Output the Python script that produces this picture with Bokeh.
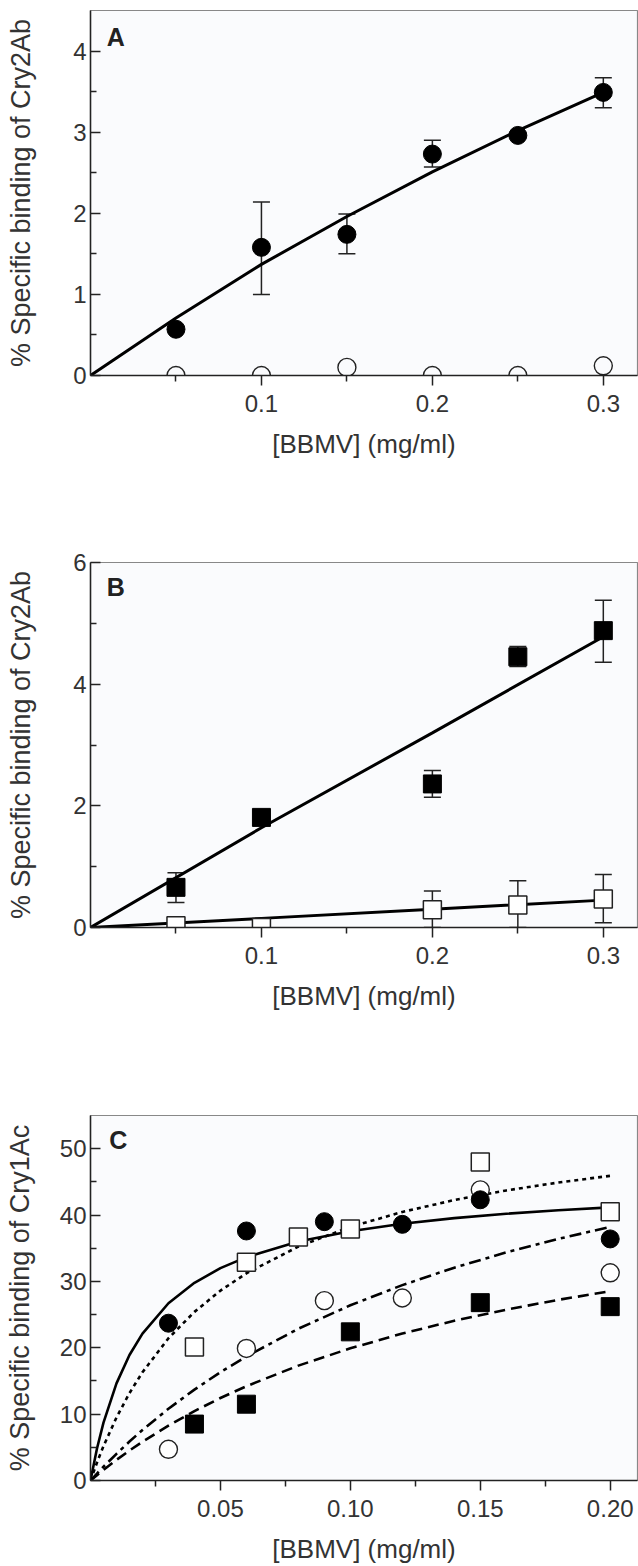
from bokeh.plotting import figure
from bokeh.models import (FixedTicker, PrintfTickFormatter, Whisker, TeeHead,
                          ColumnDataSource, Label, Range1d)
from bokeh.layouts import column
from bokeh.embed import file_html
from bokeh.resources import INLINE

# ---------------- Panel A ----------------
a_x = [0.05, 0.10, 0.15, 0.20, 0.25, 0.30]
a_filled = [0.57, 1.58, 1.74, 2.73, 2.96, 3.49]
a_open = [0.0, 0.0, 0.10, 0.0, 0.0, 0.12]
a_err_x = [0.10, 0.15, 0.20, 0.30]
a_err_lo = [1.00, 1.50, 2.57, 3.30]
a_err_hi = [2.14, 1.99, 2.90, 3.67]
a_fit_x = [0.0, 0.05, 0.10, 0.15, 0.20, 0.25, 0.30]
a_fit_y = [0.0, 0.71, 1.37, 1.96, 2.51, 3.02, 3.49]

# ---------------- Panel B ----------------
b_x = [0.05, 0.10, 0.20, 0.25, 0.30]
b_filled = [0.66, 1.81, 2.36, 4.45, 4.88]
b_open = [0.03, 0.0, 0.29, 0.37, 0.47]
b_ferr_x = [0.05, 0.20, 0.25, 0.30]
b_ferr_lo = [0.41, 2.14, 4.29, 4.36]
b_ferr_hi = [0.90, 2.58, 4.62, 5.38]
b_oerr_x = [0.20, 0.25, 0.30]
b_oerr_lo = [0.0, 0.0, 0.08]
b_oerr_hi = [0.60, 0.77, 0.87]
b_fit_x = [0.0, 0.10, 0.20, 0.30]
b_fit_filled = [0.0, 1.64, 3.20, 4.78]
b_fit_open = [0.0, 0.15, 0.30, 0.45]

# ---------------- Panel C ----------------
c_fc_x = [0.03, 0.06, 0.09, 0.12, 0.15, 0.20]
c_fc_y = [23.7, 37.6, 39.0, 38.6, 42.3, 36.4]
c_os_x = [0.04, 0.06, 0.08, 0.10, 0.15, 0.20]
c_os_y = [20.1, 32.9, 36.7, 37.9, 48.0, 40.5]
c_oc_x = [0.03, 0.06, 0.09, 0.12, 0.15, 0.20]
c_oc_y = [4.7, 19.9, 27.1, 27.5, 43.8, 31.3]
c_fs_x = [0.04, 0.06, 0.10, 0.15, 0.20]
c_fs_y = [8.5, 11.5, 22.4, 26.8, 26.2]
c_fit_x = [0.0, 0.0025, 0.005, 0.01, 0.015, 0.02, 0.03, 0.04, 0.05, 0.06,
           0.08, 0.10, 0.12, 0.14, 0.16, 0.18, 0.20]
c_fit_solid = [0.0, 4.82, 8.72, 14.63, 18.91, 22.14, 26.71, 29.79, 32.00, 33.66,
               36.00, 37.57, 38.70, 39.54, 40.20, 40.73, 41.16]
c_fit_dotted = [0.0, 2.71, 5.18, 9.50, 13.17, 16.31, 21.43, 25.41, 28.61, 31.22,
                35.25, 38.21, 40.47, 42.26, 43.71, 44.90, 45.91]
c_fit_dashdot = [0.0, 1.05, 2.07, 4.02, 5.87, 7.61, 10.81, 13.70, 16.32, 18.70,
                 22.87, 26.40, 29.44, 32.07, 34.37, 36.40, 38.21]
c_fit_dashed = [0.0, 0.81, 1.60, 3.10, 4.51, 5.84, 8.27, 10.46, 12.43, 14.21,
                17.31, 19.92, 22.15, 24.07, 25.74, 27.22, 28.52]

FONT = "Liberation Sans"
INK = "#222222"
TXT = "#333333"


def make_fig(xmax, ymax, xt, xminor, yt, yminor, xfmt, ylabel, top, bottom, ystandoff):
    p = figure(frame_width=547, frame_height=365,
               x_range=Range1d(0, xmax), y_range=Range1d(0, ymax),
               output_backend="svg", toolbar_location=None,
               min_border_left=90, min_border_right=1,
               min_border_top=top, min_border_bottom=bottom,
               background_fill_color="#fafbfd", border_fill_color="white")
    p.grid.visible = False
    p.outline_line_color = "#888888"
    p.outline_line_width = 1.2
    for ax in (p.xaxis[0], p.yaxis[0]):
        ax.axis_line_color = INK
        ax.axis_line_width = 1.5
        ax.major_tick_line_color = INK
        ax.minor_tick_line_color = INK
        ax.major_tick_line_width = 1.5
        ax.minor_tick_line_width = 1.5
        ax.major_label_text_font = FONT
        ax.major_label_text_font_size = "24px"
        ax.major_label_text_color = TXT
        ax.axis_label_text_font = FONT
        ax.axis_label_text_font_style = "normal"
        ax.axis_label_text_color = TXT
    xa = p.xaxis[0]
    xa.ticker = FixedTicker(ticks=xt, minor_ticks=xminor)
    xa.formatter = PrintfTickFormatter(format=xfmt)
    xa.major_tick_out = 10
    xa.major_tick_in = 0
    xa.minor_tick_out = 6
    xa.minor_tick_in = 0
    xa.major_label_standoff = 9
    xa.axis_label = "[BBMV] (mg/ml)"
    xa.axis_label_text_font_size = "26px"
    xa.axis_label_standoff = 14
    ya = p.yaxis[0]
    ya.ticker = FixedTicker(ticks=yt, minor_ticks=yminor)
    ya.major_tick_out = 0
    ya.major_tick_in = 10
    ya.minor_tick_out = 0
    ya.minor_tick_in = 6
    ya.major_label_standoff = 4
    ya.axis_label = ylabel
    ya.axis_label_text_font_size = "27px"
    ya.axis_label_standoff = ystandoff
    return p


def whisker(p, xs, lo, hi):
    src = ColumnDataSource(dict(x=xs, lo=lo, hi=hi))
    w = Whisker(source=src, base="x", lower="lo", upper="hi", dimension="height",
                line_color=INK, line_width=1.5,
                upper_head=TeeHead(size=17, line_color=INK, line_width=1.5),
                lower_head=TeeHead(size=17, line_color=INK, line_width=1.5))
    p.add_layout(w)


# ---- A ----
pA = make_fig(0.32, 4.5, [0.1, 0.2, 0.3], [0.05, 0.15, 0.25],
              [0, 1, 2, 3, 4], [0.5, 1.5, 2.5, 3.5],
              "%.1f", "% Specific binding of Cry2Ab", 10, 100, 34)
whisker(pA, a_err_x, a_err_lo, a_err_hi)
pA.line(a_fit_x, a_fit_y, line_color="black", line_width=3)
pA.scatter(a_x, a_open, marker="circle", size=18, fill_color="white",
           fill_alpha=0, line_color=INK, line_width=1.4)
pA.scatter(a_x, a_filled, marker="circle", size=18, fill_color="black", line_color="black")
pA.add_layout(Label(x=0.0095, y=4.35, text="A", text_font=FONT, text_font_style="bold",
                    text_font_size="25px", text_color=INK, text_baseline="top"))

# ---- B ----
pB = make_fig(0.32, 6.0, [0.1, 0.2, 0.3], [0.05, 0.15, 0.25],
              [0, 2, 4, 6], [1, 3, 5],
              "%.1f", "% Specific binding of Cry2Ab", 87, 100, 34)
whisker(pB, b_ferr_x, b_ferr_lo, b_ferr_hi)
whisker(pB, b_oerr_x, b_oerr_lo, b_oerr_hi)
pB.line(b_fit_x, b_fit_filled, line_color="black", line_width=3)
pB.line(b_fit_x, b_fit_open, line_color="black", line_width=3)
pB.scatter(b_x, b_open, marker="square", size=18, fill_color="white",
           line_color=INK, line_width=1.5)
pB.scatter(b_x, b_filled, marker="square", size=18, fill_color="black", line_color="black")
pB.add_layout(Label(x=0.0095, y=5.82, text="B", text_font=FONT, text_font_style="bold",
                    text_font_size="25px", text_color=INK, text_baseline="top"))

# ---- C ----
pC = make_fig(0.2105, 55.0, [0.05, 0.10, 0.15, 0.20], [0.025, 0.075, 0.125, 0.175],
              [0, 10, 20, 30, 40, 50], [5, 15, 25, 35, 45],
              "%.2f", "% Specific binding of Cry1Ac", 88, 78, 22)
pC.line(c_fit_x, c_fit_solid, line_color="black", line_width=2.6)
pC.line(c_fit_x, c_fit_dotted, line_color="black", line_width=2.6, line_dash="4 4")
pC.line(c_fit_x, c_fit_dashdot, line_color="black", line_width=2.6, line_dash="12 5 4 5")
pC.line(c_fit_x, c_fit_dashed, line_color="black", line_width=2.6, line_dash="11 6")
pC.scatter(c_oc_x, c_oc_y, marker="circle", size=18, fill_color="white",
           line_color=INK, line_width=1.4)
pC.scatter(c_os_x, c_os_y, marker="square", size=18, fill_color="white",
           line_color=INK, line_width=1.5)
pC.scatter(c_fs_x, c_fs_y, marker="square", size=18, fill_color="black", line_color="black")
pC.scatter(c_fc_x, c_fc_y, marker="circle", size=18, fill_color="black", line_color="black")
pC.add_layout(Label(x=0.0072, y=53.4, text="C", text_font=FONT, text_font_style="bold",
                    text_font_size="25px", text_color=INK, text_baseline="top"))

layout = column(pA, pB, pC, spacing=0)
open("out.html", "w").write(file_html(layout, INLINE))
